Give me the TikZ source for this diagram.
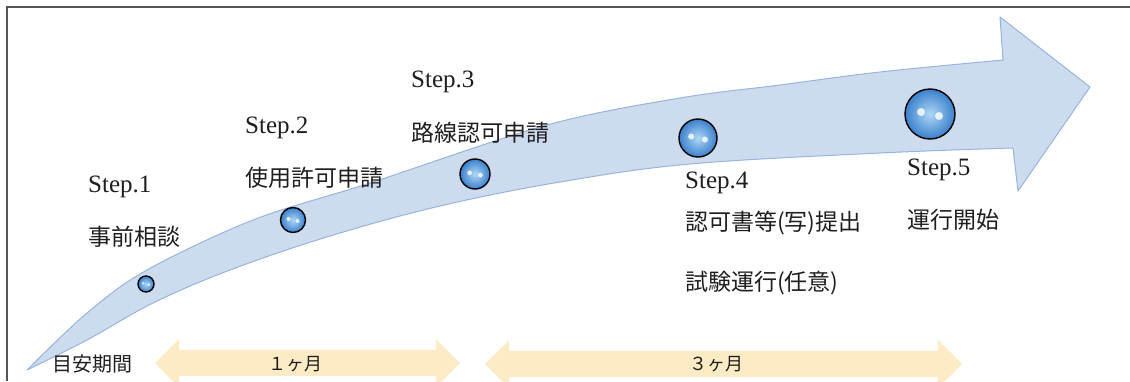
\documentclass[tikz,border=0pt]{standalone}
\usepackage{fontspec}
\newfontfamily\jp{Noto Sans CJK JP}
\newfontfamily\latin{Liberation Serif}
\usetikzlibrary{positioning,shapes.arrows}

\definecolor{arrowfill}{RGB}{205,219,239}
\definecolor{arrowline}{RGB}{150,180,220}
\definecolor{bubin}{RGB}{175,215,246}
\definecolor{bubout}{RGB}{58,128,204}
\definecolor{spanfill}{RGB}{252,235,196}
\definecolor{framecol}{RGB}{85,85,85}
\definecolor{txt}{RGB}{30,30,30}

% ball with two white glints
\newcommand\bubble[3]{%
  \node[bubble, minimum size=#3] (#1) at (#2) {};
  \fill[white, opacity=.8] ([shift={({-0.18*#3},{-0.04*#3})}]#1.center) circle[radius={0.08*#3*1pt}];
  \fill[white, opacity=.8] ([shift={({0.18*#3},{0.04*#3})}]#1.center) circle[radius={0.08*#3*1pt}];
}

\begin{document}
\begin{tikzpicture}[x=1pt, y=-1pt,
    steplbl/.style={anchor=west, inner sep=0, text=txt, font=\latin\fontsize{25}{29}\selectfont},
    jlbl/.style={anchor=west, inner sep=0, text=txt, font=\jp\fontsize{23}{27}\selectfont},
    bubble/.style={circle, draw=black, line width=1.4pt, inner sep=0, inner color=bubin, outer color=bubout},
    span/.style={double arrow, fill=spanfill, double arrow head extend=11pt, inner xsep=0, inner ysep=13pt}]
    \useasboundingbox (0,0) rectangle (1130,381);
    \draw[framecol, line width=1.5pt] (1130,7) -- (7,7) -- (7,381);

    % the big curved arrow
    \filldraw[fill=arrowfill, draw=arrowline, line width=1pt, line join=round]
      plot[smooth, tension=0.55] coordinates {(27,370) (87,313) (147,270) (253,220) (370,183) (547,125) (680,98) (780,85) (880,72) (1003,60)}
      -- (1000,17) -- (1090,87) -- (1018,191) -- (1013,148)
      -- plot[smooth, tension=0.6] coordinates {(1013,148) (880,153) (690,164) (560,182) (440,206) (330,236) (230,270) (153,303) (87,340) (27,370)}
      -- cycle;

    \bubble{Ball1}{146,284}{16}
    \bubble{Ball2}{293,220}{25}
    \bubble{Ball3}{475,174}{30}
    \bubble{Ball4}{698,138}{38}
    \bubble{Ball5}{930,114}{50}

    \node[steplbl] (Step1) at (88,187) {Step.1};
    \node[jlbl, below=50pt of Step1.west, anchor=west] (Consult) {事前相談};
    \node[steplbl] (Step2) at (245,128) {Step.2};
    \node[jlbl, below=50pt of Step2.west, anchor=west] (Use) {使用許可申請};
    \node[steplbl] (Step3) at (411,82) {Step.3};
    \node[jlbl, below=51pt of Step3.west, anchor=west] (Route) {路線認可申請};
    \node[steplbl] (Step4) at (685,183) {Step.4};
    \node[jlbl, below=40pt of Step4.west, anchor=west] (Copy) {認可書等(写)提出};
    \node[jlbl, below=60pt of Copy.west, anchor=west] (Trial) {試験運行(任意)};
    \node[steplbl] (Step5) at (907,170) {Step.5};
    \node[jlbl, below=50pt of Step5.west, anchor=west] (Start) {運行開始};

    % period arrows
    \node[jlbl, font=\jp\fontsize{20}{24}\selectfont] (Period) at (52,364) {目安期間};
    \node[span, minimum height=305] (Month1) at (307.5,363) {};
    \node[span, minimum height=477] (Month3) at (723.5,364) {};
    \node[text=txt, inner sep=0, font=\jp\fontsize{18}{22}\selectfont] (Label1) at (295,364) {１ヶ月};
    \node[text=txt, inner sep=0, font=\jp\fontsize{18}{22}\selectfont] (Label3) at (716,364) {３ヶ月};
  \end{tikzpicture}
\end{document}
